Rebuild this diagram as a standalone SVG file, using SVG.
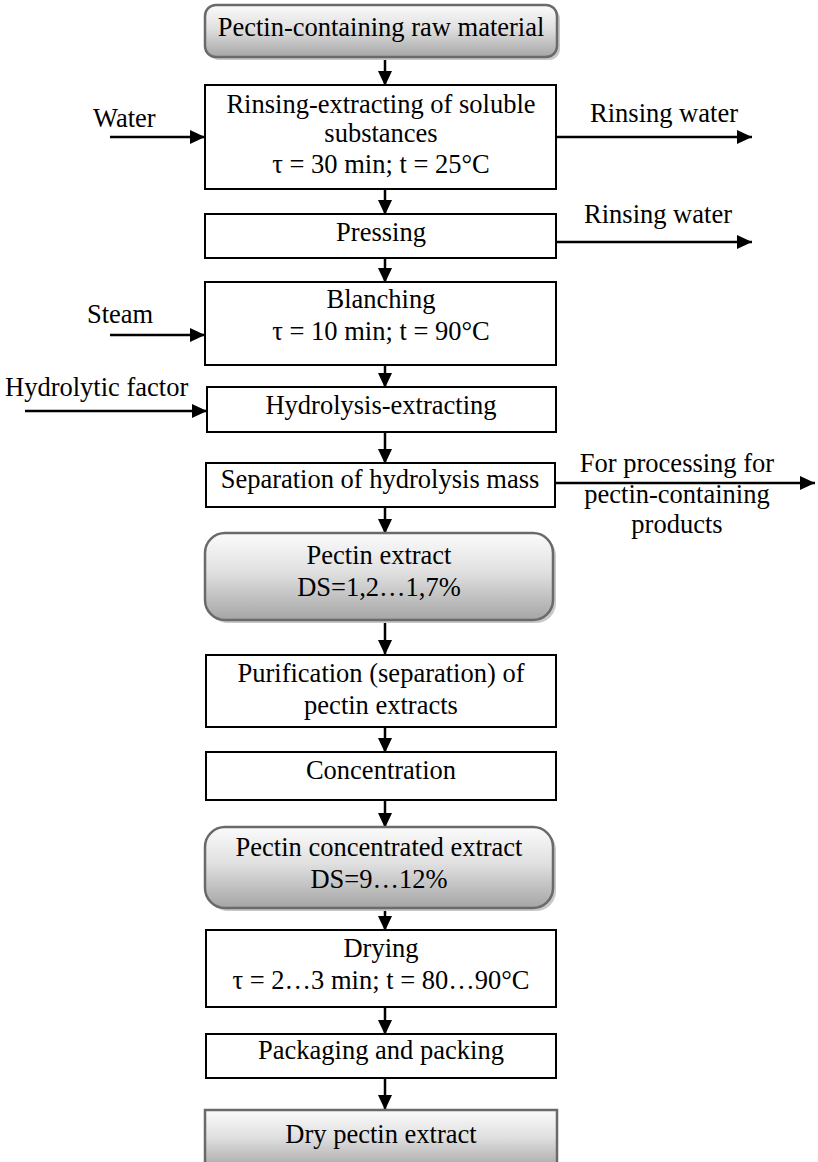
<svg xmlns="http://www.w3.org/2000/svg" width="818" height="1162" viewBox="0 0 818 1162">
<defs>
<linearGradient id="g" x1="0" y1="0" x2="0" y2="1">
<stop offset="0" stop-color="#fbfbfb"/>
<stop offset="0.45" stop-color="#e0e0e0"/>
<stop offset="1" stop-color="#a5a5a5"/>
</linearGradient>
<marker id="ah" markerUnits="userSpaceOnUse" markerWidth="15" markerHeight="14" refX="15" refY="7" orient="auto">
<path d="M0,0 L15,7 L0,14 z" fill="#000"/>
</marker>
</defs>
<style>
text{font-family:"Liberation Serif","Times New Roman",serif;font-size:26.5px;fill:#000}
.c{text-anchor:middle}
.box{fill:#fff;stroke:#000;stroke-width:2}
.gb{fill:url(#g);stroke:#6a6a6a;stroke-width:2.5}
.sh{fill:#c9c9c9}
.ln{stroke:#000;stroke-width:2.5;fill:none;marker-end:url(#ah)}
</style>
<rect width="818" height="1162" fill="#fff"/>
<g id="connectors">
<line class="ln" x1="385" y1="57" x2="385" y2="86"/>
<line class="ln" x1="385" y1="189" x2="385" y2="215"/>
<line class="ln" x1="385" y1="258" x2="385" y2="283"/>
<line class="ln" x1="385" y1="365" x2="385" y2="388"/>
<line class="ln" x1="385" y1="432" x2="385" y2="464"/>
<line class="ln" x1="385" y1="507" x2="385" y2="534"/>
<line class="ln" x1="385" y1="620" x2="385" y2="655"/>
<line class="ln" x1="385" y1="727" x2="385" y2="753"/>
<line class="ln" x1="385" y1="800" x2="385" y2="828"/>
<line class="ln" x1="385" y1="908" x2="385" y2="931"/>
<line class="ln" x1="385" y1="1007" x2="385" y2="1035"/>
<line class="ln" x1="385" y1="1078" x2="385" y2="1110"/>
<line class="ln" x1="110" y1="137" x2="205" y2="137"/>
<line class="ln" x1="556" y1="137" x2="752" y2="137"/>
<line class="ln" x1="556" y1="242" x2="752" y2="242"/>
<line class="ln" x1="110" y1="335" x2="205" y2="335"/>
<line class="ln" x1="25" y1="411" x2="207" y2="411"/>
<line class="ln" x1="555" y1="483" x2="815" y2="483"/>
<text x="93" y="127">Water</text>
<text class="c" x="664" y="122">Rinsing water</text>
<text class="c" x="658" y="223">Rinsing water</text>
<text x="87" y="323">Steam</text>
<text x="5" y="396">Hydrolytic factor</text>
<text class="c" x="677" y="472">For processing for</text>
<text class="c" x="677" y="503">pectin-containing</text>
<text class="c" x="677" y="533">products</text>
</g>
<g id="n1">
<rect class="sh" x="208" y="8" width="352" height="52" rx="11"/>
<rect class="gb" x="205" y="5" width="352" height="52" rx="11"/>
<text class="c" x="381" y="36">Pectin-containing raw material</text>
</g>
<g id="n2">
<rect class="box" x="205" y="85" width="351" height="104"/>
<text class="c" x="381" y="113">Rinsing-extracting of soluble</text>
<text class="c" x="381" y="142">substances</text>
<text class="c" x="381" y="173">τ = 30 min; t = 25°C</text>
</g>
<g id="n3">
<rect class="box" x="205" y="214" width="351" height="44"/>
<text class="c" x="381" y="241">Pressing</text>
</g>
<g id="n4">
<rect class="box" x="205" y="282" width="351" height="83"/>
<text class="c" x="381" y="308">Blanching</text>
<text class="c" x="381" y="340">τ = 10 min; t = 90°C</text>
</g>
<g id="n5">
<rect class="box" x="207" y="387" width="349" height="45"/>
<text class="c" x="381" y="414">Hydrolysis-extracting</text>
</g>
<g id="n6">
<rect class="box" x="206" y="463" width="349" height="44"/>
<text class="c" x="380" y="488">Separation of hydrolysis mass</text>
</g>
<g id="n7">
<rect class="sh" x="208" y="536" width="348" height="87" rx="20"/>
<rect class="gb" x="205" y="533" width="348" height="87" rx="20"/>
<text class="c" x="379" y="564">Pectin extract</text>
<text class="c" x="379" y="596">DS=1,2…1,7%</text>
</g>
<g id="n8">
<rect class="box" x="206" y="655" width="350" height="72"/>
<text class="c" x="381" y="682">Purification (separation) of</text>
<text class="c" x="381" y="714">pectin extracts</text>
</g>
<g id="n9">
<rect class="box" x="206" y="752" width="350" height="48"/>
<text class="c" x="381" y="779">Concentration</text>
</g>
<g id="n10">
<rect class="sh" x="208" y="830" width="348" height="81" rx="20"/>
<rect class="gb" x="205" y="827" width="348" height="81" rx="20"/>
<text class="c" x="379" y="856">Pectin concentrated extract</text>
<text class="c" x="379" y="888">DS=9…12%</text>
</g>
<g id="n11">
<rect class="box" x="206" y="930" width="350" height="77"/>
<text class="c" x="381" y="957">Drying</text>
<text class="c" x="381" y="989">τ = 2…3 min; t = 80…90°C</text>
</g>
<g id="n12">
<rect class="box" x="206" y="1034" width="350" height="44"/>
<text class="c" x="381" y="1059">Packaging and packing</text>
</g>
<g id="n13">
<rect class="gb" x="205" y="1110" width="352" height="60"/>
<text class="c" x="381" y="1143">Dry pectin extract</text>
</g>
</svg>
